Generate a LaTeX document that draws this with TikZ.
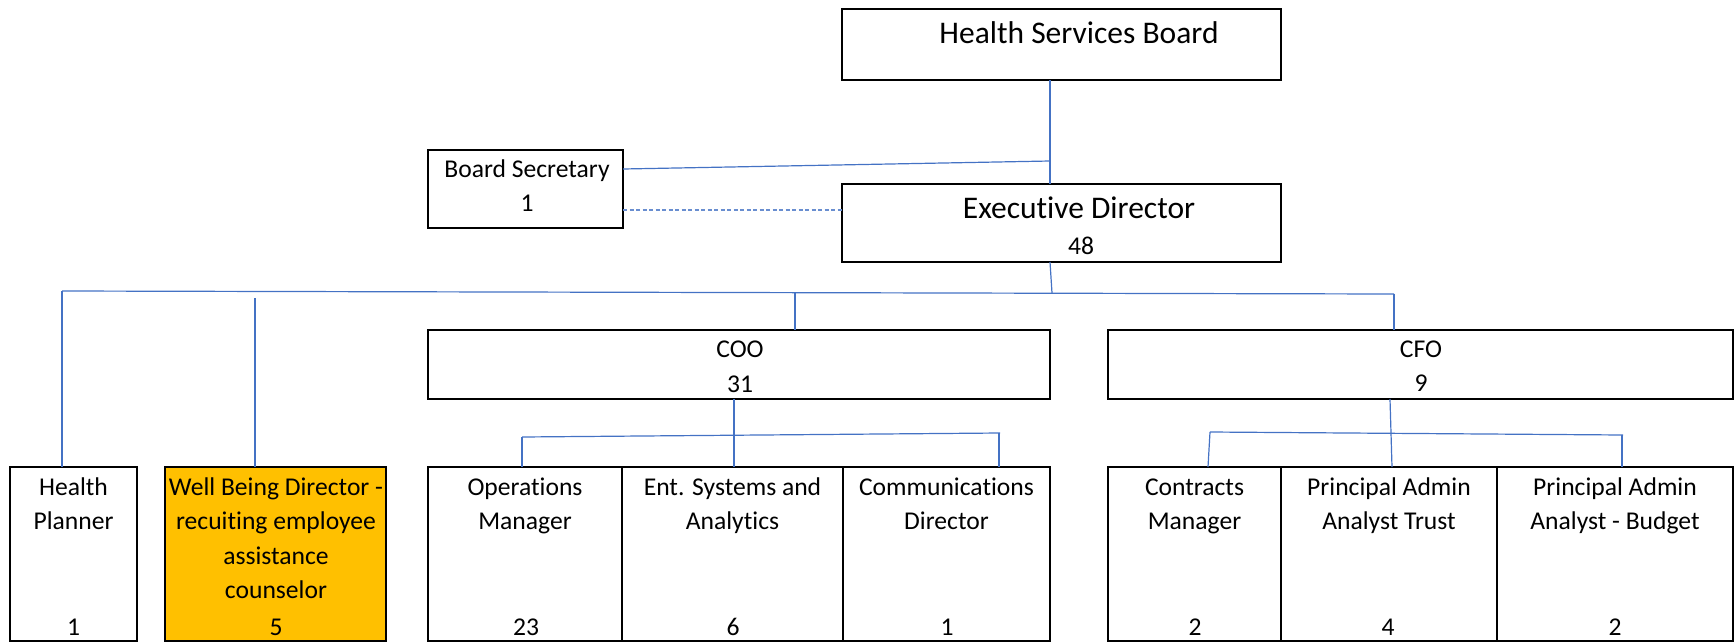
\documentclass[tikz,border=0pt]{standalone}
\usepackage{fontspec}
\setmainfont{Carlito}[Ligatures=NoCommon]
\usetikzlibrary{calc}
\definecolor{conn}{HTML}{4472C4}
\definecolor{wbfill}{HTML}{FFC000}
\tikzset{
  box/.style={draw=black, line width=2pt, inner sep=0pt, outer sep=0pt, fill=white},
  conline/.style={draw=conn, line width=1.2pt},
  dashline/.style={draw=conn!80, line width=1.2pt, dash pattern=on 4pt off 2.5pt},
  sm/.style={inner sep=0pt, anchor=base, font=\fontsize{25.6}{34.5}\selectfont},
  big/.style={inner sep=0pt, anchor=base, font=\fontsize{31.5}{38}\selectfont},
}
\begin{document}
\begin{tikzpicture}[x=1pt,y=-1pt]
\useasboundingbox (0,0) rectangle (1735,643);

% boxes
\node[box, minimum width=439pt, minimum height=71pt] (hsb) at (1061.5,44.5) {};
\node[box, minimum width=195pt, minimum height=78pt] (bs) at (525.5,189) {};
\node[box, minimum width=439pt, minimum height=78pt] (ed) at (1061.5,223) {};
\node[box, minimum width=622pt, minimum height=69pt] (coo) at (739,364.5) {};
\node[box, minimum width=625pt, minimum height=69pt] (cfo) at (1420.5,364.5) {};
\node[box, minimum width=127pt, minimum height=174pt] (hp) at (73.5,554) {};
\node[box, fill=wbfill, minimum width=221pt, minimum height=174pt] (wb) at (275.5,554) {};
\node[box, minimum width=194pt, minimum height=174pt] (om) at (525,554) {};
\node[box, minimum width=221pt, minimum height=174pt] (esa) at (732.5,554) {};
\node[box, minimum width=207pt, minimum height=174pt] (cd) at (946.5,554) {};
\node[box, minimum width=173pt, minimum height=174pt] (cm) at (1194.5,554) {};
\node[box, minimum width=216pt, minimum height=174pt] (pat) at (1389,554) {};
\node[box, minimum width=236pt, minimum height=174pt] (pab) at (1615,554) {};

% texts
\node[big] (hsbT) at (1079,43) {Health Services Board};
\node[big] (edT) at (1079,218) {Executive Director};
\node[sm] (edN) at (1081,254) {48};
\node[sm] (bsT) at (527,177) {Board Secretary};
\node[sm] (bsN) at (527,211) {1};
\node[sm] (cooT) at (740,357) {COO};
\node[sm] (cooN) at (740,392) {31};
\node[sm] (cfoT) at (1421,357) {CFO};
\node[sm] (cfoN) at (1421,391) {9};

\node[sm] (hp1) at (73.5,495) {Health};
\node[sm] (hp2) at (73.5,529) {Planner};
\node[sm] (hpN) at (73.5,635) {1};

\node[sm] (wb1) at (276,495) {Well Being Director -};
\node[sm] (wb2) at (276,529) {recuiting employee};
\node[sm] (wb3) at (276,564) {assistance};
\node[sm] (wb4) at (276,598) {counselor};
\node[sm] (wbN) at (276,635) {5};

\node[sm] (om1) at (525,495) {Operations};
\node[sm] (om2) at (525,529) {Manager};
\node[sm] (omN) at (526,635) {23};

\node[sm] (esa1) at (732.5,495) {Ent. Systems and};
\node[sm] (esa2) at (732.5,529) {Analytics};
\node[sm] (esaN) at (733,635) {6};

\node[sm] (cd1) at (946.5,495) {Communications};
\node[sm] (cd2) at (946.5,529) {Director};
\node[sm] (cdN) at (947,635) {1};

\node[sm] (cm1) at (1194.5,495) {Contracts};
\node[sm] (cm2) at (1194.5,529) {Manager};
\node[sm] (cmN) at (1195,635) {2};

\node[sm] (pat1) at (1389,495) {Principal Admin};
\node[sm] (pat2) at (1389,529) {Analyst Trust};
\node[sm] (patN) at (1388,635) {4};

\node[sm] (pab1) at (1615,495) {Principal Admin};
\node[sm] (pab2) at (1615,529) {Analyst - Budget};
\node[sm] (pabN) at (1615,635) {2};

% junction coordinates
\coordinate (hsbDrop) at ($(hsb.south)+(-11.5,0)$);
\coordinate (bsJoin) at (1050,161);
\coordinate (edDrop) at ($(ed.south)+(-11.5,0)$);
\coordinate (busMid) at (1052,293);
\coordinate (busL) at (62,291);
\coordinate (busR) at (1394,294);
\coordinate (wbTop) at (255,298);
\coordinate (cooTop) at (795,292.5);
\coordinate (cooDrop) at (734,399);
\coordinate (cooBusL) at (522,437);
\coordinate (cooBusR) at (1000,433);
\coordinate (cfoDrop) at (1390,399);
\coordinate (cfoBusL) at (1210,432);
\coordinate (cfoBusR) at (1623,435);

% connectors
\draw[conline] (hsbDrop) -- (hsbDrop |- ed.north);
\draw[conline] ($(bs.east)+(0,-20)$) -- (bsJoin);
\draw[dashline] ($(bs.east)+(0,21)$) -- ($(ed.west)+(0,-13)$);
\draw[conline] (edDrop) -- (busMid);
\draw[conline] (busL) -- (busR);
\draw[conline] (busL) -- (busL |- hp.north);
\draw[conline] (wbTop) -- (wbTop |- wb.north);
\draw[conline] (cooTop) -- (cooTop |- coo.north);
\draw[conline] (busR) -- (busR |- cfo.north);

\draw[conline] (cooDrop) -- (cooDrop |- esa.north);
\draw[conline] (cooBusL) -- (cooBusR);
\draw[conline] (cooBusL) -- (cooBusL |- om.north);
\draw[conline] (999,433) -- (999,467);

\draw[conline] (cfoDrop) -- (1392,467);
\draw[conline] (cfoBusL) -- (cfoBusR);
\draw[conline] (cfoBusL) -- (1208,467);
\draw[conline] (1622,435) -- (1622,467);
\end{tikzpicture}
\end{document}
